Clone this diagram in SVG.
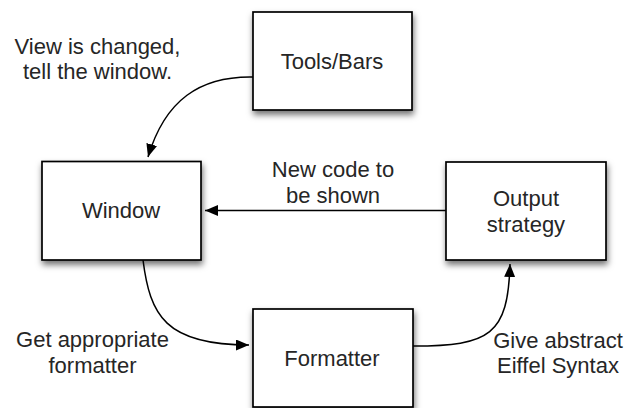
<svg xmlns="http://www.w3.org/2000/svg" width="626" height="408" viewBox="0 0 626 408">
  <defs>
    <filter id="shadow" x="-20%" y="-20%" width="140%" height="150%">
      <feDropShadow dx="1" dy="4" stdDeviation="3" flood-color="#000" flood-opacity="0.55"/>
    </filter>
    <marker id="arrow" markerUnits="userSpaceOnUse" markerWidth="14" markerHeight="12" refX="13" refY="5.5" orient="auto">
      <path d="M0,0 L13,5.5 L0,11 Z" fill="#000"/>
    </marker>
  </defs>
  <style>
    .box { fill: #fff; stroke: #000; stroke-width: 1.7; filter: url(#shadow); }
    .lbl { font-family: "Liberation Sans", Arial, sans-serif; font-size: 22px; fill: #262626; text-anchor: middle; }
    .edge { fill: none; stroke: #000; stroke-width: 1.5; marker-end: url(#arrow); }
  </style>

  <rect width="626" height="408" fill="#fff"/>

  <g id="connectors">
    <path class="edge" d="M253,77 C200,76 165,100 148,157"/>
    <path class="edge" d="M446,210.5 L205,210.5"/>
    <path class="edge" d="M143,260 C150,315 165,345 249,345"/>
    <path class="edge" d="M413,346 C490,346 508,335 510,264"/>
  </g>

  <g id="tools-bars">
    <rect class="box" x="253" y="12" width="159" height="98"/>
    <text class="lbl" x="332" y="69">Tools/Bars</text>
  </g>

  <g id="window">
    <rect class="box" x="42" y="161.5" width="159" height="98.5"/>
    <text class="lbl" x="121" y="218">Window</text>
  </g>

  <g id="output-strategy">
    <rect class="box" x="446" y="162" width="160" height="98"/>
    <text class="lbl" x="526" y="206">Output</text>
    <text class="lbl" x="526" y="232">strategy</text>
  </g>

  <g id="formatter">
    <rect class="box" x="253" y="309" width="160" height="98"/>
    <text class="lbl" x="332" y="366">Formatter</text>
  </g>

  <g id="edge-labels">
    <text class="lbl" x="97.5" y="54">View is changed,</text>
    <text class="lbl" x="97.5" y="79">tell the window.</text>
    <text class="lbl" x="333" y="177">New code to</text>
    <text class="lbl" x="333" y="203">be shown</text>
    <text class="lbl" x="92.5" y="347">Get appropriate</text>
    <text class="lbl" x="92.5" y="373">formatter</text>
    <text class="lbl" x="558" y="348">Give abstract</text>
    <text class="lbl" x="558" y="373">Eiffel Syntax</text>
  </g>
</svg>
